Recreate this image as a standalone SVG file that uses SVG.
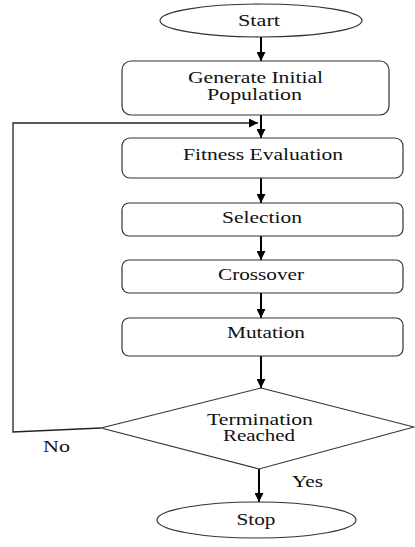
<svg xmlns="http://www.w3.org/2000/svg" width="415" height="547" viewBox="0 0 415 547">
<defs>
<marker id="ahb" viewBox="0 0 10 10" refX="10" refY="5" markerWidth="10" markerHeight="9" markerUnits="userSpaceOnUse" orient="auto">
<path d="M0,0 L10,5 L0,10 z" fill="#000"/>
</marker>
</defs>
<style>
.n{fill:#fff;stroke:#333;stroke-width:1.2}
.t{text-anchor:middle}
.c{fill:none;stroke:#000;stroke-width:2}
.c1{fill:none;stroke:#222;stroke-width:1.3}
</style>
<rect width="415" height="547" fill="#fff"/>
<g id="connectors">
<line class="c" x1="261" y1="37" x2="261" y2="61" marker-end="url(#ahb)"/>
<line class="c" x1="261" y1="115" x2="261" y2="138" marker-end="url(#ahb)"/>
<line class="c" x1="261" y1="178" x2="261" y2="203" marker-end="url(#ahb)"/>
<line class="c" x1="261" y1="236" x2="261" y2="260" marker-end="url(#ahb)"/>
<line class="c" x1="261" y1="293" x2="261" y2="318" marker-end="url(#ahb)"/>
<line class="c" x1="261" y1="356" x2="261" y2="388" marker-end="url(#ahb)"/>
<line class="c" x1="259" y1="469" x2="259" y2="502" marker-end="url(#ahb)"/>
<polyline class="c1" points="101,428 13,432 13,123 258,123" marker-end="url(#ahb)"/>
</g>
<g font-family="Liberation Serif, Times New Roman, serif" font-size="16" fill="#111">
<g id="start">
<ellipse class="n" cx="261" cy="20.5" rx="101" ry="16.5"/>
<text class="t" x="259" y="26" textLength="42" lengthAdjust="spacingAndGlyphs">Start</text>
</g>
<g id="generate">
<rect class="n" x="122" y="61" width="267" height="54" rx="9"/>
<text class="t" x="255.5" y="83" textLength="135" lengthAdjust="spacingAndGlyphs">Generate Initial</text>
<text class="t" x="254.5" y="100" textLength="95" lengthAdjust="spacingAndGlyphs">Population</text>
</g>
<g id="fitness">
<rect class="n" x="122" y="138" width="281" height="40" rx="8"/>
<text class="t" x="263" y="160" textLength="160" lengthAdjust="spacingAndGlyphs">Fitness Evaluation</text>
</g>
<g id="selection">
<rect class="n" x="122" y="203" width="281" height="33" rx="7"/>
<text class="t" x="262" y="223" textLength="80" lengthAdjust="spacingAndGlyphs">Selection</text>
</g>
<g id="crossover">
<rect class="n" x="122" y="260" width="281" height="33" rx="7"/>
<text class="t" x="261" y="280" textLength="86" lengthAdjust="spacingAndGlyphs">Crossover</text>
</g>
<g id="mutation">
<rect class="n" x="122" y="318" width="281" height="38" rx="7"/>
<text class="t" x="266" y="338" textLength="78" lengthAdjust="spacingAndGlyphs">Mutation</text>
</g>
<g id="termination">
<polygon class="n" points="261,388 414,427 259,469 101,428"/>
<text class="t" x="260" y="425" textLength="106" lengthAdjust="spacingAndGlyphs">Termination</text>
<text class="t" x="259" y="441" textLength="72" lengthAdjust="spacingAndGlyphs">Reached</text>
</g>
<g id="labels">
<text x="43" y="452" textLength="27" lengthAdjust="spacingAndGlyphs">No</text>
<text x="292" y="487" textLength="31" lengthAdjust="spacingAndGlyphs">Yes</text>
</g>
<g id="stop">
<ellipse class="n" cx="256.5" cy="520" rx="99.5" ry="18"/>
<text class="t" x="256" y="525" textLength="39" lengthAdjust="spacingAndGlyphs">Stop</text>
</g>
</g>
</svg>
